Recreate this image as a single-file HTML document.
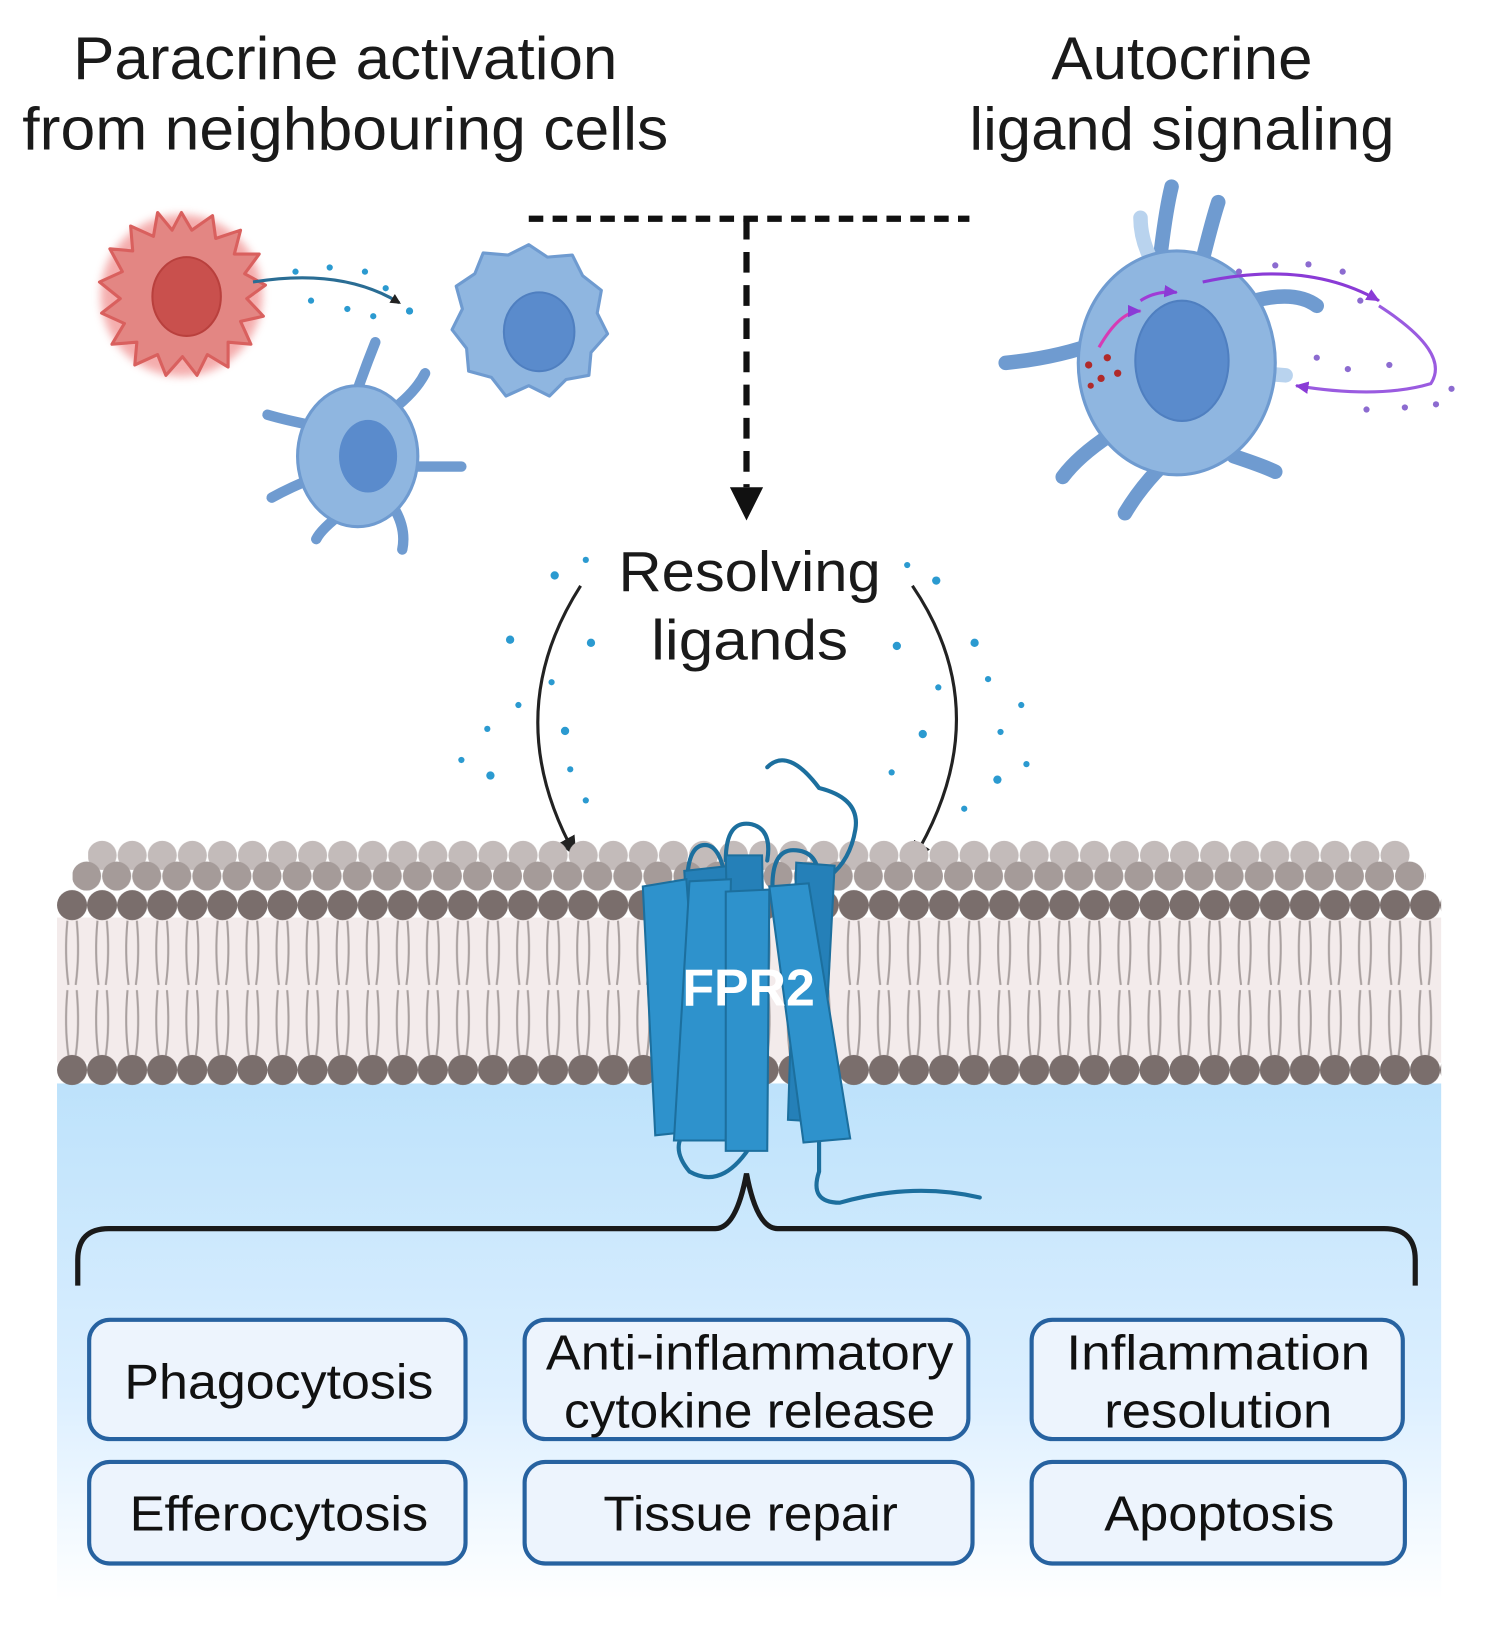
<!DOCTYPE html>
<html><head><meta charset="utf-8"><style>
html,body{margin:0;padding:0;background:#fff}
svg{display:block}
text{font-family:"Liberation Sans",sans-serif}
</style></head><body>
<svg width="1493" height="1634" viewBox="0 0 1440 1576" preserveAspectRatio="none" xmlns="http://www.w3.org/2000/svg">
<defs>
<linearGradient id="cyto" x1="0" y1="0" x2="0" y2="1">
<stop offset="0" stop-color="#bde2fb"/><stop offset="0.6" stop-color="#dcefff"/><stop offset="1" stop-color="#ffffff"/>
</linearGradient>
<pattern id="headsBack" x="55" y="0" width="29" height="1600" patternUnits="userSpaceOnUse">
<circle cx="14.5" cy="825" r="14" fill="#c3bbba"/>
</pattern>
<pattern id="headsMid" x="69" y="0" width="29" height="1600" patternUnits="userSpaceOnUse">
<circle cx="14.5" cy="845" r="14" fill="#a59b99"/>
</pattern>
<pattern id="headsFront" x="55" y="0" width="29" height="1600" patternUnits="userSpaceOnUse">
<circle cx="14.5" cy="873" r="14.5" fill="#7a6e6c"/>
<circle cx="14.5" cy="1032" r="14.5" fill="#7a6e6c"/>
<path d="M10 888 Q7 920 11 950 M19 888 Q22 920 18 950 M10 955 Q7 990 11 1018 M19 955 Q22 990 18 1018" stroke="#a9a09f" stroke-width="2" fill="none"/>
</pattern>
<marker id="ah" markerWidth="10" markerHeight="10" refX="8" refY="5" orient="auto" markerUnits="userSpaceOnUse" viewBox="0 0 10 10"><path d="M0 0 L10 5 L0 10 Z" fill="#222"/></marker>
<marker id="ah2" markerWidth="22" markerHeight="22" refX="18" refY="11" orient="auto" markerUnits="userSpaceOnUse"><path d="M0 2 L20 11 L0 20 Z" fill="#222"/></marker>
<marker id="ahp" markerWidth="14" markerHeight="14" refX="12" refY="7" orient="auto" markerUnits="userSpaceOnUse"><path d="M0 1 L13 7 L0 13 Z" fill="#8a3bd6"/></marker>
<filter id="glow"><feGaussianBlur stdDeviation="4"/></filter>
</defs>

<!-- Titles -->
<text x="333" y="76" font-size="58" text-anchor="middle" fill="#1a1a1a" textLength="525" lengthAdjust="spacingAndGlyphs">Paracrine activation</text>
<text x="333" y="144" font-size="58" text-anchor="middle" fill="#1a1a1a" textLength="623" lengthAdjust="spacingAndGlyphs">from neighbouring cells</text>
<text x="1140" y="76" font-size="58" text-anchor="middle" fill="#1a1a1a" textLength="252" lengthAdjust="spacingAndGlyphs">Autocrine</text>
<text x="1140" y="144" font-size="58" text-anchor="middle" fill="#1a1a1a" textLength="410" lengthAdjust="spacingAndGlyphs">ligand signaling</text>

<!-- dashed connector -->
<line x1="510" y1="211" x2="935" y2="211" stroke="#111" stroke-width="6" stroke-dasharray="14,9"/>
<line x1="720" y1="211" x2="720" y2="470" stroke="#111" stroke-width="6" stroke-dasharray="20,12"/>
<path d="M704 470 L736 470 L720 502 Z" fill="#111"/>

<!-- red cell -->
<g>
<circle cx="175" cy="285" r="78" fill="#f08a8a" filter="url(#glow)" opacity="0.7"/>
<path d="M175 205 L185 222 L205 208 L208 230 L232 222 L226 245 L250 245 L236 264 L256 275 L238 288 L254 305 L232 310 L242 332 L220 330 L220 354 L200 342 L190 362 L176 344 L160 362 L152 342 L130 352 L132 330 L108 332 L120 312 L98 302 L116 288 L96 272 L118 262 L106 240 L128 242 L126 218 L148 228 L152 205 L166 222 Z" fill="#e38683" stroke="#d9605e" stroke-width="3" stroke-linejoin="round"/>
<ellipse cx="180" cy="286" rx="33" ry="38" fill="#c9504d" stroke="#b9403d" stroke-width="2"/>
</g>
<path d="M244 272 Q330 258 385 292" stroke="#2a6d94" stroke-width="3" fill="none" marker-end="url(#ah)"/>
<g fill="#2b9ad0"><circle cx="285" cy="262" r="3"/><circle cx="318" cy="258" r="3"/><circle cx="352" cy="262" r="3"/><circle cx="300" cy="290" r="3"/><circle cx="335" cy="298" r="3"/><circle cx="372" cy="278" r="3"/><circle cx="395" cy="300" r="3.5"/><circle cx="360" cy="305" r="3"/></g>

<!-- blue round cell -->
<path d="M510 236 L528 248 L552 246 L562 266 L580 280 L576 302 L586 322 L570 340 L568 362 L546 366 L530 382 L510 372 L488 382 L474 364 L452 358 L450 336 L436 318 L446 298 L440 276 L458 264 L466 244 L490 246 Z" fill="#8fb6e0" stroke="#6f9bd0" stroke-width="3" stroke-linejoin="round"/>
<ellipse cx="520" cy="320" rx="34" ry="38" fill="#5a8bcc" stroke="#4f7fc0" stroke-width="2"/>

<!-- small dendritic cell -->
<g stroke="#6f9bd0" stroke-width="10" stroke-linecap="round" fill="none">
<path d="M340 390 Q350 360 362 330"/><path d="M372 400 Q400 380 410 360"/><path d="M395 450 L445 450"/><path d="M380 490 Q392 510 388 530"/><path d="M330 495 Q310 510 305 520"/><path d="M305 460 Q280 470 262 480"/><path d="M300 410 Q275 405 258 400"/>
</g>
<ellipse cx="345" cy="440" rx="58" ry="68" fill="#8fb6e0" stroke="#6f9bd0" stroke-width="3"/>
<ellipse cx="355" cy="440" rx="28" ry="35" fill="#5a8bcc"/>

<!-- right dendritic cell -->
<g stroke="#6f9bd0" stroke-width="14" stroke-linecap="round" fill="none">
<path d="M1120 240 Q1125 200 1130 180"/><path d="M1160 250 Q1170 210 1175 195"/><path d="M1210 290 Q1250 280 1270 295"/><path d="M1060 330 Q1020 345 970 350"/><path d="M1070 420 Q1040 440 1025 460"/><path d="M1120 450 Q1100 470 1085 495"/><path d="M1190 440 Q1220 450 1230 455"/><path d="M1110 250 Q1100 230 1100 210" stroke="#b9d3ee"/><path d="M1215 360 L1240 362" stroke="#b9d3ee"/>
</g>
<ellipse cx="1135" cy="350" rx="95" ry="108" fill="#8fb6e0" stroke="#6f9bd0" stroke-width="3"/>
<ellipse cx="1140" cy="348" rx="45" ry="58" fill="#5a8bcc" stroke="#4f7fc0" stroke-width="2"/>
<g fill="#b02a2a"><circle cx="1050" cy="352" r="3.5"/><circle cx="1068" cy="345" r="3.5"/><circle cx="1062" cy="365" r="3.5"/><circle cx="1078" cy="360" r="3.5"/><circle cx="1052" cy="372" r="3"/></g>
<path d="M1060 335 Q1080 300 1100 300" stroke="#d63bb5" stroke-width="3" fill="none" marker-end="url(#ahp)"/>
<path d="M1100 290 Q1115 280 1135 282" stroke="#a03bd6" stroke-width="3" fill="none" marker-end="url(#ahp)"/>
<path d="M1160 272 Q1260 250 1330 290" stroke="#8a3bd6" stroke-width="3" fill="none" marker-end="url(#ahp)"/>
<path d="M1330 295 Q1400 340 1380 370 Q1330 385 1250 372" stroke="#9a5be0" stroke-width="3" fill="none" marker-end="url(#ahp)"/>
<g fill="#8c6bd0"><circle cx="1195" cy="262" r="3"/><circle cx="1230" cy="256" r="3"/><circle cx="1262" cy="255" r="3"/><circle cx="1295" cy="262" r="3"/><circle cx="1312" cy="290" r="3"/><circle cx="1270" cy="345" r="3"/><circle cx="1300" cy="356" r="3"/><circle cx="1340" cy="352" r="3"/><circle cx="1318" cy="395" r="3"/><circle cx="1355" cy="393" r="3"/><circle cx="1385" cy="390" r="3"/><circle cx="1400" cy="375" r="3"/></g>

<!-- Resolving ligands -->
<text x="723" y="570" font-size="55" text-anchor="middle" fill="#1a1a1a" textLength="253" lengthAdjust="spacingAndGlyphs">Resolving</text>
<text x="723" y="636" font-size="55" text-anchor="middle" fill="#1a1a1a" textLength="190" lengthAdjust="spacingAndGlyphs">ligands</text>
<path d="M560 565 Q480 690 555 825" stroke="#222" stroke-width="3" fill="none" marker-end="url(#ah2)"/>
<path d="M880 565 Q965 690 880 830" stroke="#222" stroke-width="3" fill="none" marker-end="url(#ah2)"/>
<g fill="#2b9ad0">
<circle cx="535" cy="555" r="4"/><circle cx="492" cy="617" r="4"/><circle cx="570" cy="620" r="4"/><circle cx="545" cy="705" r="4"/><circle cx="473" cy="748" r="4"/><circle cx="532" cy="658" r="3"/><circle cx="470" cy="703" r="3"/><circle cx="445" cy="733" r="3"/><circle cx="565" cy="772" r="3"/><circle cx="550" cy="742" r="3"/><circle cx="500" cy="680" r="3"/><circle cx="565" cy="540" r="3"/>
<circle cx="903" cy="560" r="4"/><circle cx="940" cy="620" r="4"/><circle cx="865" cy="623" r="4"/><circle cx="890" cy="708" r="4"/><circle cx="962" cy="752" r="4"/><circle cx="905" cy="663" r="3"/><circle cx="965" cy="706" r="3"/><circle cx="990" cy="737" r="3"/><circle cx="860" cy="745" r="3"/><circle cx="875" cy="545" r="3"/><circle cx="953" cy="655" r="3"/><circle cx="985" cy="680" r="3"/><circle cx="930" cy="780" r="3"/>
</g>

<!-- membrane -->
<rect x="55" y="885" width="1335" height="140" fill="#f3ebeb"/>
<rect x="55" y="1045" width="1335" height="500" fill="url(#cyto)"/>
<rect x="85" y="808" width="1275" height="34" fill="url(#headsBack)"/>
<rect x="70" y="828" width="1305" height="34" fill="url(#headsMid)"/>
<rect x="55" y="855" width="1335" height="195" fill="url(#headsFront)"/>

<!-- FPR2 protein -->
<g stroke="#1c6f9e" stroke-width="4" fill="none" stroke-linecap="round">
<path d="M740 740 Q760 720 790 760 Q830 770 825 800 Q820 830 800 845"/>
<path d="M700 830 Q700 790 725 795 Q745 800 740 830"/>
<path d="M745 855 Q745 820 765 820 Q790 820 790 850"/>
<path d="M663 845 Q665 815 680 815 Q695 815 700 850"/>
<path d="M675 1080 Q640 1100 665 1130 Q700 1150 730 1095"/>
<path d="M790 1090 Q790 1120 790 1130 Q780 1160 810 1160 Q880 1140 945 1155"/>
</g>
<g stroke="#1c6f9e" stroke-width="2" fill="#2580b8">
<path d="M660 840 L705 835 L712 1080 L675 1085 Z"/>
<path d="M768 832 L805 835 L792 1082 L760 1080 Z"/>
<path d="M700 825 L735 825 L740 1070 L705 1070 Z"/>
</g>
<g stroke="#1c6f9e" stroke-width="2" fill="#2e92cc">
<path d="M620 855 L662 848 L680 1090 L632 1095 Z"/>
<path d="M665 850 L705 848 L700 1100 L650 1100 Z" fill="#2e92cc"/>
<path d="M700 860 L742 858 L740 1110 L700 1110 Z"/>
<path d="M742 855 L780 852 L820 1098 L775 1102 Z"/>
</g>
<text x="722" y="970" font-size="50" font-weight="bold" text-anchor="middle" fill="#fff">FPR2</text>

<!-- brace -->
<path d="M75 1240 L75 1215 Q75 1185 105 1185 L690 1185 Q710 1185 720 1132 Q730 1185 750 1185 L1335 1185 Q1365 1185 1365 1215 L1365 1240" stroke="#1a1a1a" stroke-width="5" fill="none"/>

<!-- boxes -->
<g fill="#edf4fd" stroke="#2762a0" stroke-width="4">
<rect x="86" y="1273" width="363" height="115" rx="20"/>
<rect x="506" y="1273" width="428" height="115" rx="20"/>
<rect x="995" y="1273" width="358" height="115" rx="20"/>
<rect x="86" y="1410" width="363" height="98" rx="20"/>
<rect x="506" y="1410" width="432" height="98" rx="20"/>
<rect x="995" y="1410" width="360" height="98" rx="20"/>
</g>
<g font-size="47" text-anchor="middle" fill="#111" lengthAdjust="spacingAndGlyphs">
<text x="269" y="1349" textLength="298" lengthAdjust="spacingAndGlyphs">Phagocytosis</text>
<text x="723" y="1321" textLength="393" lengthAdjust="spacingAndGlyphs">Anti-inflammatory</text>
<text x="723" y="1377" textLength="358" lengthAdjust="spacingAndGlyphs">cytokine release</text>
<text x="1175" y="1321" textLength="293" lengthAdjust="spacingAndGlyphs">Inflammation</text>
<text x="1175" y="1377" textLength="220" lengthAdjust="spacingAndGlyphs">resolution</text>
<text x="269" y="1476" textLength="288" lengthAdjust="spacingAndGlyphs">Efferocytosis</text>
<text x="724" y="1476" textLength="284" lengthAdjust="spacingAndGlyphs">Tissue repair</text>
<text x="1176" y="1476" textLength="222" lengthAdjust="spacingAndGlyphs">Apoptosis</text>
</g>
</svg>
</body></html>
